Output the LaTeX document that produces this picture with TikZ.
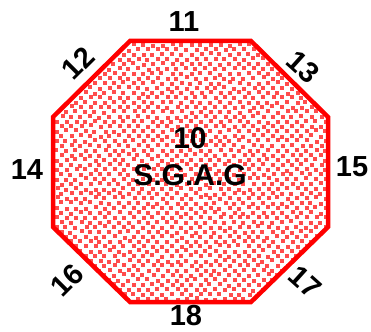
\documentclass[tikz,border=0pt]{standalone}
\usepackage{fontspec}
\setmainfont{Liberation Sans}
\tikzset{
    edgelbl/.style={font=\fontsize{29}{31}\selectfont\bfseries, text=black, inner sep=0pt},
    midlbl/.style={font=\fontsize{30}{37}\selectfont\bfseries, text=black, align=center, inner sep=0pt},
    rim/.style={draw=red, line width=4.5pt, line join=miter}
}
\begin{document}
\begin{tikzpicture}[x=1pt,y=-1pt]
                \useasboundingbox (0,0) rectangle (371,331);
                % dotted fill
                \scope
                \clip (130,41) -- (251,41) -- (328,117) -- (328,227)
                    -- (251,302) -- (130,302) -- (53,227) -- (53,117) -- cycle;
                \pgfmathsetseed{11}
                \foreach \i in {0,...,58} {
                    \foreach \j in {0,...,28} {
                        \pgfmathsetmacro{\px}{50+4.8*\i+1.0*rand}
                        \pgfmathsetmacro{\py}{38+9.6*\j+4.8*mod(\i,2)+1.0*rand}
                        \fill[red!70] (\px,\py) rectangle ++(4,4);
                    }
                }
                \endscope
                % outline
                \draw[rim] (130,41) -- (251,41) -- (328,117) -- (328,227)
                    -- (251,302) -- (130,302) -- (53,227) -- (53,117) -- cycle;
                % middle
                \node[midlbl] (core) at (190,157) {10\\S.G.A.G};
                % sides
                \node[edgelbl] (e11) at (184,22) {11};
                \node[edgelbl, rotate=45] (e12) at (78,63) {12};
                \node[edgelbl, rotate=-42] (e13) at (303,67) {13};
                \node[edgelbl] (e14) at (27,170) {14};
                \node[edgelbl] (e15) at (352,167) {15};
                \node[edgelbl, rotate=45] (e16) at (67,280) {16};
                \node[edgelbl, rotate=-42] (e17) at (305,282) {17};
                \node[edgelbl] (e18) at (186,316) {18};
            \end{tikzpicture}
\end{document}
